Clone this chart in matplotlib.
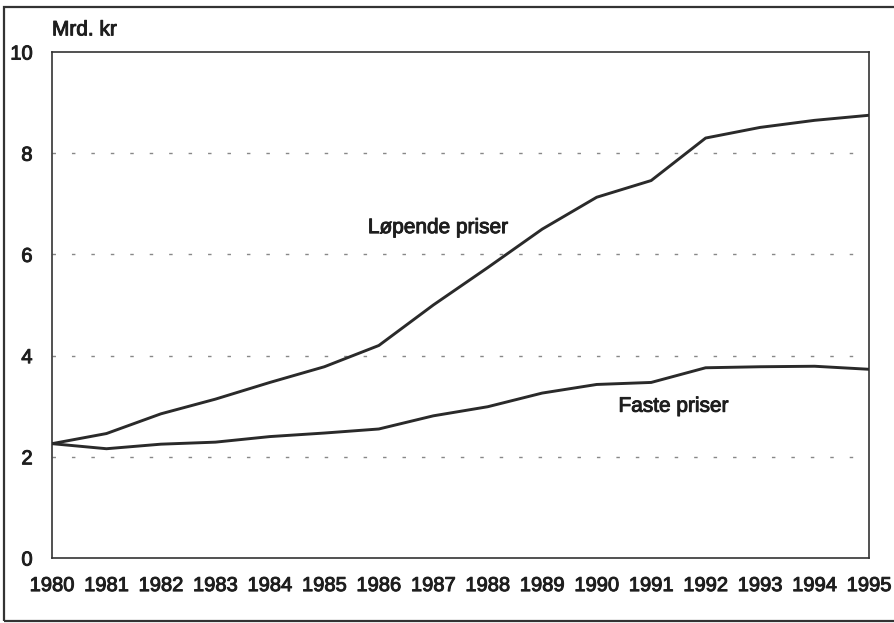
import matplotlib
matplotlib.use("Agg")
import matplotlib.pyplot as plt
import matplotlib.patheffects as pe
from matplotlib.patches import Rectangle

plt.rcParams["font.family"] = ["Liberation Sans", "DejaVu Sans"]

aar = list(range(1980, 1996))
lopende = [2.26, 2.46, 2.85, 3.14, 3.47, 3.78, 4.20, 5.00, 5.74, 6.50,
           7.13, 7.46, 8.30, 8.51, 8.65, 8.75]
faste = [2.26, 2.16, 2.25, 2.29, 2.40, 2.47, 2.55, 2.81, 2.99, 3.26,
         3.43, 3.47, 3.76, 3.78, 3.79, 3.73]
y_ticks = [0, 2, 4, 6, 8, 10]

tekstfarge = "#1e1e1e"
tykk = [pe.withStroke(linewidth=0.7, foreground=tekstfarge)]

fig = plt.figure(figsize=(8.95, 6.23), dpi=100)
ax = fig.add_axes([0.0581, 0.1043, 0.9129, 0.8122])

# ramme rundt hele figuren (høyre kant går utenfor bildet)
fig.patches.append(Rectangle((0.005, 0.003), 1.1, 0.985, transform=fig.transFigure,
                             fill=False, edgecolor="#333333", linewidth=1.6,
                             clip_on=False))

for v in y_ticks[1:-1]:
    ax.axhline(v, color="#888888", linewidth=1, linestyle=(0, (2.5, 11.5)), zorder=1)

ax.plot(aar, lopende, color="#2a2a2a", linewidth=2.1, zorder=3)
ax.plot(aar, faste, color="#2a2a2a", linewidth=2.1, zorder=3)

ax.set_xlim(1980, 1995)
ax.set_ylim(0, 10)
ax.set_xticks(aar)
ax.set_yticks(y_ticks)
ax.tick_params(length=0, labelsize=14.5, colors=tekstfarge)
ax.tick_params(axis="y", pad=14)
ax.tick_params(axis="x", pad=13)
for lbl in ax.get_xticklabels() + ax.get_yticklabels():
    lbl.set_path_effects(tykk)
for s in ax.spines.values():
    s.set_color("#333333")
    s.set_linewidth(1.2)

ax.text(0.0, 1.025, "Mrd. kr", transform=ax.transAxes, fontsize=15,
        color=tekstfarge, ha="left", va="bottom", path_effects=tykk)
ax.text(1985.8, 6.53, "Løpende priser", fontsize=15, color=tekstfarge,
        ha="left", va="center", path_effects=tykk)
ax.text(1990.4, 3.0, "Faste priser", fontsize=15, color=tekstfarge,
        ha="left", va="center", path_effects=tykk)

fig.savefig("out.png", dpi=100)
